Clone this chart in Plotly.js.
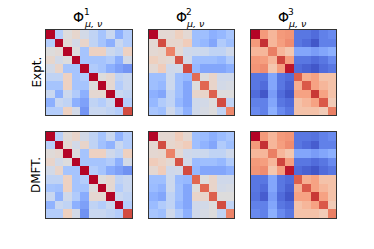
<!DOCTYPE html>
<html>
<head>
<meta charset="utf-8">
<script src="https://cdn.plot.ly/plotly-3.0.1.min.js"></script>
<style>html,body{margin:0;padding:0;background:#fff;}#chart{width:374px;height:249px;}</style>
</head>
<body>
<div id="chart"></div>
<script>
// ---- Data ----
const rowLabels = ["Expt.", "DMFT."];
const colTitles = ["1", "2", "3"];

const exptPhi1 = [
  [1.00,-0.28, 0.00, 0.08,-0.08,-0.20,-0.36,-0.14,-0.50,-0.28],
  [-0.28,1.00, 0.04,-0.08, 0.10,-0.20,-0.36,-0.50,-0.14,-0.28],
  [0.00, 0.04, 1.00, 0.00,-0.36, 0.14, 0.14,-0.12,-0.20, 0.14],
  [0.08,-0.08, 0.00, 1.00,-0.36,-0.36,-0.36,-0.30,-0.50,-0.08],
  [-0.08,0.10,-0.36,-0.36, 1.00,-0.30,-0.36,-0.50,-0.57,-0.64],
  [-0.20,-0.20,0.14,-0.36,-0.30, 1.00, 0.00, 0.06,-0.20,-0.14],
  [-0.36,-0.36,0.14,-0.36,-0.36, 0.00, 1.00, 0.06,-0.28,-0.14],
  [-0.14,-0.50,-0.12,-0.30,-0.50,0.06, 0.06, 1.00,-0.14,-0.20],
  [-0.50,-0.14,-0.20,-0.50,-0.57,-0.20,-0.28,-0.14, 1.00,-0.28],
  [-0.28,-0.28,0.14,-0.08,-0.64,-0.14,-0.14,-0.20,-0.28, 0.80]
];
const exptPhi2 = [
  [1.00, 0.05, 0.05, 0.16, 0.05,-0.40,-0.40,-0.50,-0.45,-0.35],
  [0.05, 0.80, 0.08, 0.08, 0.20,-0.40,-0.45,-0.55,-0.30,-0.40],
  [0.05, 0.08, 0.60, 0.05,-0.10,-0.12,-0.12,-0.20,-0.20,-0.10],
  [0.16, 0.08, 0.05, 0.78,-0.08,-0.40,-0.40,-0.40,-0.45,-0.30],
  [0.05, 0.20,-0.10,-0.08, 0.80,-0.45,-0.55,-0.55,-0.55,-0.50],
  [-0.40,-0.40,-0.12,-0.40,-0.45,0.70, 0.00, 0.10,-0.10,-0.10],
  [-0.40,-0.45,-0.12,-0.40,-0.55,0.00, 0.72, 0.10,-0.08,-0.05],
  [-0.50,-0.55,-0.20,-0.40,-0.55,0.10, 0.10, 0.74, 0.00, 0.00],
  [-0.45,-0.30,-0.20,-0.45,-0.55,-0.10,-0.08,0.00, 0.80,-0.20],
  [-0.35,-0.40,-0.10,-0.30,-0.50,-0.10,-0.05,0.00,-0.20, 0.58]
];
const exptPhi3 = [
  [1.00, 0.50, 0.36, 0.50, 0.52,-0.80,-0.80,-0.85,-0.75,-0.70],
  [0.50, 0.88, 0.36, 0.48, 0.56,-0.80,-0.85,-0.95,-0.75,-0.75],
  [0.36, 0.36, 0.62, 0.36, 0.28,-0.55,-0.55,-0.60,-0.55,-0.50],
  [0.50, 0.48, 0.36, 0.82, 0.48,-0.80,-0.80,-0.85,-0.80,-0.70],
  [0.52, 0.56, 0.28, 0.48, 0.95,-0.85,-0.90,-0.95,-0.85,-0.80],
  [-0.80,-0.80,-0.55,-0.80,-0.85,0.74, 0.40, 0.46, 0.30, 0.30],
  [-0.80,-0.85,-0.55,-0.80,-0.90,0.40, 0.76, 0.46, 0.36, 0.30],
  [-0.85,-0.95,-0.60,-0.85,-0.95,0.46, 0.46, 0.86, 0.46, 0.30],
  [-0.75,-0.75,-0.55,-0.80,-0.85,0.30, 0.36, 0.46, 0.76, 0.22],
  [-0.70,-0.75,-0.50,-0.70,-0.80,0.30, 0.30, 0.30, 0.22, 0.62]
];
const dmftPhi1 = [
  [1.00,-0.26, 0.02, 0.10,-0.08,-0.20,-0.36,-0.14,-0.48,-0.28],
  [-0.26,1.00, 0.06,-0.08, 0.10,-0.20,-0.38,-0.48,-0.14,-0.28],
  [0.02, 0.06, 1.00, 0.00,-0.36, 0.14, 0.14,-0.10,-0.20, 0.16],
  [0.10,-0.08, 0.00, 1.00,-0.36,-0.36,-0.36,-0.30,-0.50,-0.08],
  [-0.08,0.10,-0.36,-0.36, 1.00,-0.28,-0.36,-0.52,-0.58,-0.66],
  [-0.20,-0.20,0.14,-0.36,-0.28, 1.00, 0.00, 0.06,-0.20,-0.14],
  [-0.36,-0.38,0.14,-0.36,-0.36, 0.00, 1.00, 0.06,-0.28,-0.14],
  [-0.14,-0.48,-0.10,-0.30,-0.52,0.06, 0.06, 1.00,-0.14,-0.20],
  [-0.48,-0.14,-0.20,-0.50,-0.58,-0.20,-0.28,-0.14, 1.00,-0.28],
  [-0.28,-0.28,0.16,-0.08,-0.66,-0.14,-0.14,-0.20,-0.28, 0.80]
];
const dmftPhi2 = [
  [1.00, 0.06, 0.06, 0.20, 0.06,-0.40,-0.42,-0.50,-0.42,-0.35],
  [0.06, 0.80, 0.08, 0.12, 0.20,-0.40,-0.48,-0.55,-0.30,-0.40],
  [0.06, 0.08, 0.60, 0.05,-0.10,-0.12,-0.12,-0.20,-0.20,-0.10],
  [0.20, 0.12, 0.05, 0.78,-0.08,-0.42,-0.40,-0.40,-0.45,-0.30],
  [0.06, 0.20,-0.10,-0.08, 0.80,-0.45,-0.55,-0.55,-0.55,-0.50],
  [-0.40,-0.40,-0.12,-0.42,-0.45,0.72, 0.00, 0.10,-0.10,-0.10],
  [-0.42,-0.48,-0.12,-0.40,-0.55,0.00, 0.72, 0.10,-0.08,-0.05],
  [-0.50,-0.55,-0.20,-0.40,-0.55,0.10, 0.10, 0.74, 0.00, 0.00],
  [-0.42,-0.30,-0.20,-0.45,-0.55,-0.10,-0.08,0.00, 0.80,-0.20],
  [-0.35,-0.40,-0.10,-0.30,-0.50,-0.10,-0.05,0.00,-0.20, 0.60]
];
const dmftPhi3 = [
  [1.00, 0.50, 0.36, 0.50, 0.52,-0.80,-0.80,-0.82,-0.75,-0.70],
  [0.50, 0.88, 0.36, 0.48, 0.56,-0.80,-0.85,-0.92,-0.75,-0.75],
  [0.36, 0.36, 0.62, 0.36, 0.28,-0.55,-0.55,-0.60,-0.55,-0.50],
  [0.50, 0.48, 0.36, 0.82, 0.48,-0.80,-0.80,-0.85,-0.80,-0.70],
  [0.52, 0.56, 0.28, 0.48, 0.95,-0.85,-0.90,-0.95,-0.85,-0.80],
  [-0.80,-0.80,-0.55,-0.80,-0.85,0.74, 0.40, 0.46, 0.30, 0.30],
  [-0.80,-0.85,-0.55,-0.80,-0.90,0.40, 0.76, 0.46, 0.36, 0.30],
  [-0.82,-0.92,-0.60,-0.85,-0.95,0.46, 0.46, 0.86, 0.46, 0.30],
  [-0.75,-0.75,-0.55,-0.80,-0.85,0.30, 0.36, 0.46, 0.76, 0.22],
  [-0.70,-0.75,-0.50,-0.70,-0.80,0.30, 0.30, 0.30, 0.22, 0.62]
];

const matrices = [[exptPhi1, exptPhi2, exptPhi3],[dmftPhi1, dmftPhi2, dmftPhi3]];

// ---- Style ----
const W = 374, H = 249;
const coolwarm = [
  [0,'#3b4cc0'],[0.0714,'#506bda'],[0.143,'#6788ee'],[0.214,'#7fa1f9'],[0.25,'#8db0fe'],
  [0.286,'#9abbff'],[0.357,'#b3cdfb'],[0.429,'#c9d7f0'],[0.5,'#dddcdc'],[0.571,'#edd1c2'],
  [0.643,'#f4c5ad'],[0.714,'#f7a889'],[0.75,'#f49a7b'],[0.857,'#e26952'],[0.929,'#c83836'],[1,'#b40426']
];
const colPx = [[46,132],[149,234],[251,336]];
const rowPx = [[30,115],[132,218]];
const font = "DejaVu Sans, sans-serif";

const data = [];
const layout = {
  width: W, height: H,
  margin: {l:0,r:0,t:0,b:0},
  paper_bgcolor: '#ffffff', plot_bgcolor: '#ffffff',
  showlegend: false,
  annotations: []
};

let k = 0;
for (let r = 0; r < 2; r++) {
  for (let c = 0; c < 3; c++) {
    k++;
    const xa = k === 1 ? 'x' : 'x' + k;
    const ya = k === 1 ? 'y' : 'y' + k;
    const z = matrices[r][c];
    data.push({
      type: 'heatmap', z: z, xaxis: xa, yaxis: ya,
      colorscale: coolwarm, zmin: -1, zmax: 1, showscale: false, hoverinfo: 'skip'
    });
    const axCommon = {
      showline: true, mirror: true, linecolor: '#333333', linewidth: 1,
      showticklabels: false, ticks: '', showgrid: false, zeroline: false,
      range: [-0.5, z.length - 0.5]
    };
    layout[xa === 'x' ? 'xaxis' : 'xaxis' + k] = Object.assign({}, axCommon, {
      domain: [colPx[c][0]/W, colPx[c][1]/W], anchor: ya
    });
    layout[ya === 'y' ? 'yaxis' : 'yaxis' + k] = Object.assign({}, axCommon, {
      domain: [1 - rowPx[r][1]/H, 1 - rowPx[r][0]/H], anchor: xa,
      range: [z.length - 0.5, -0.5]
    });
  }
}

// column titles: Φ with stacked superscript and subscript
for (let c = 0; c < 3; c++) {
  const cx = (colPx[c][0] + colPx[c][1]) / 2;
  layout.annotations.push({
    xref:'paper', yref:'paper', x:(cx-10.5)/W, y:1-17/H, xanchor:'center', yanchor:'middle',
    text:'Φ', showarrow:false, borderpad:0, font:{family:font, size:14, color:'#000'}
  });
  layout.annotations.push({
    xref:'paper', yref:'paper', x:(cx-6.5)/W, y:1-11.5/H, xanchor:'left', yanchor:'middle',
    text: colTitles[c], showarrow:false, borderpad:0, font:{family:font, size:9, color:'#000'}
  });
  layout.annotations.push({
    xref:'paper', yref:'paper', x:(cx-6.5)/W, y:1-23.5/H, xanchor:'left', yanchor:'middle',
    text:'<i>μ, ν</i>', showarrow:false, borderpad:0, font:{family:font, size:9.5, color:'#000'}
  });
}
// row labels
for (let r = 0; r < 2; r++) {
  const cy = (rowPx[r][0] + rowPx[r][1]) / 2;
  layout.annotations.push({
    xref:'paper', yref:'paper', x:36/W, y:1-cy/H, xanchor:'center', yanchor:'middle',
    text: rowLabels[r], textangle:-90, showarrow:false, font:{family:font, size:12, color:'#000'}
  });
}

Plotly.newPlot('chart', data, layout, {staticPlot:true, displayModeBar:false});
</script>
</body>
</html>
